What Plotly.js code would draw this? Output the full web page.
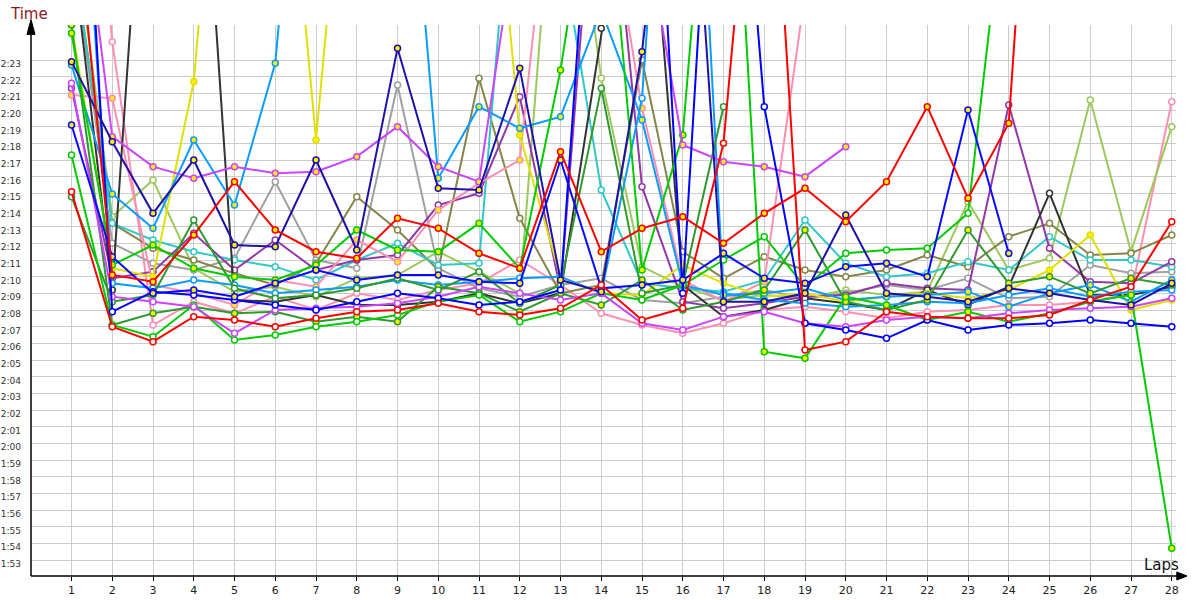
<!DOCTYPE html>
<html><head><meta charset="utf-8">
<script src="https://cdn.plot.ly/plotly-3.0.1.min.js"></script>
<style>html,body{margin:0;padding:0;background:#fff}#chart{width:1200px;height:600px}</style>
</head><body><div id="chart"></div>
<script>
// ---- data ----
const laps = [1,2,3,4,5,6,7,8,9,10,11,12,13,14,15,16,17,18,19,20,21,22,23,24,25,26,27,28];
const lapLabels = ["1","2","3","4","5","6","7","8","9","10","11","12","13","14","15","16","17","18","19","20","21","22","23","24","25","26","27","28"];
const timeTicks = [113,114,115,116,117,118,119,120,121,122,123,124,125,126,127,128,129,130,131,132,133,134,135,136,137,138,139,140,141,142,143];
const timeLabels = ["1:53","1:54","1:55","1:56","1:57","1:58","1:59","2:00","2:01","2:02","2:03","2:04","2:05","2:06","2:07","2:08","2:09","2:10","2:11","2:12","2:13","2:14","2:15","2:16","2:17","2:18","2:19","2:20","2:21","2:22","2:23"];

// lap times in seconds (null = no lap)
const redA    = [155,130.1,129.7,132.5,135.7,132.8,131.5,131.1,133.5,132.9,131.4,130.5,137.5,131.5,132.9,133.6,132.0,133.8,135.3,133.3,135.7,140.2,134.7,139.2,175,null,null,null];
const redB    = [135.1,127.0,126.1,127.6,127.4,127.0,127.5,127.9,128.0,128.4,127.9,127.7,128.1,129.5,127.4,128.1,138.0,165,125.6,126.1,127.9,127.6,127.5,127.5,127.7,128.6,129.4,133.3];
const violetA = [158,138.4,136.6,135.9,136.6,136.2,136.3,137.2,139.0,136.6,135.7,152,153,150,152,137.9,136.9,136.6,136.0,137.8,null,null,null,null,null,null,null,null];
const violetB = [141.6,128.8,128.5,128.2,126.6,128.0,128.1,128.2,128.4,128.8,129.4,129.0,128.6,129.0,127.2,126.8,127.6,127.9,127.2,127.0,127.4,127.6,127.5,127.8,128.0,128.1,128.2,128.7];
const navy    = [142.9,138.1,133.8,137.0,131.9,131.8,137.0,131.6,143.7,135.3,135.2,142.5,129.8,129.1,143.5,165,128.5,128.5,129.0,133.7,129.0,128.8,128.5,129.3,129.0,128.6,128.3,129.6];
const blueA   = [139.1,131.2,129.0,129.2,128.8,129.6,130.4,129.8,130.1,130.1,129.7,129.6,137.0,129.3,129.5,129.8,131.4,129.9,129.6,130.6,130.8,130.0,140.0,131.4,null,null,null,null];
const blueB   = [170,127.9,129.1,128.9,128.6,128.3,128.0,128.5,129.0,128.7,128.3,128.5,129.2,164,172,129.0,170,140.2,127.2,126.8,126.3,127.4,126.8,127.1,127.2,127.4,127.2,127.0];
const greenA  = [144.6,130.7,131.9,130.5,130.0,129.8,130.7,132.8,131.6,131.5,133.2,130.5,142.4,158,130.4,138.5,168,125.5,125.1,128.8,128.3,127.4,127.9,127.3,127.8,128.5,128.9,113.7];
const greenB  = [137.3,127.1,126.4,128.3,126.2,126.5,127.0,127.3,127.7,128.5,128.9,127.3,127.9,129.0,128.6,129.5,131.0,132.4,129.4,131.4,131.6,131.7,133.8,155,null,null,null,null];
const dkGreenA= [145.1,127.1,127.8,128.2,127.8,127.9,127.3,127.6,127.3,129.4,129.0,127.9,129.0,128.3,129.8,128.0,128.5,129.2,132.8,128.5,128.0,128.6,132.8,129.6,130.0,129.0,129.9,129.5];
const dkGreenB= [134.8,128.5,128.9,133.4,129.3,128.7,128.9,129.3,129.9,129.2,130.3,128.4,129.5,141.3,129.0,129.5,140.2,null,null,null,null,null,null,null,null,null,null,null];
const khaki   = [150,133.2,131.7,131.0,130.2,129.5,130.8,134.8,132.8,130.4,141.9,133.5,129.0,129.5,143.0,131.5,129.9,131.2,130.4,130.0,130.4,131.3,130.6,132.4,133.2,131.3,131.4,132.5];
const gray    = [150,132.0,130.8,130.4,131.1,135.7,131.0,130.5,141.5,130.5,129.3,128.8,129.5,129.9,128.6,128.4,128.8,129.2,128.7,129.0,129.5,129.2,129.9,128.7,128.8,130.7,130.2,130.3];
const black   = [150,129.2,165,165,128.6,128.5,128.9,128.3,128.3,128.5,129.0,128.4,129.0,144.9,160,129.5,127.6,128.0,128.7,128.4,128.0,129.2,128.3,129.4,135.0,128.9,128.9,129.4];
const yellow  = [145.1,130.5,130.0,141.7,170,165,138.2,165,165,165,165,138.5,130.0,129.0,128.9,130.7,129.6,128.8,129.0,128.5,128.8,129.0,128.7,129.2,130.4,132.5,128.0,128.6];
const skyBlueA= [142.7,134.96,132.9,138.2,134.3,142.8,170,170,165,135.9,140.2,138.9,139.6,146,139.4,129.5,128.9,129.0,129.3,128.6,128.8,128.9,129.1,128.2,129.0,129.5,128.5,129.8];
const skyBlueB= [165,129.6,129.3,129.8,129.5,129.0,129.2,129.4,129.8,129.5,129.7,129.9,130.0,129.0,140.7,175,129.0,128.6,128.4,128.2,128.3,128.5,128.4,128.9,129.3,128.8,129.1,129.2];
const cyan    = [150,133.2,132.2,131.5,131.0,130.6,129.8,131.0,132.0,130.7,130.8,160,150,135.2,129.6,129.3,129.1,129.8,133.4,130.8,130.0,130.2,130.9,130.4,132.4,131.0,131.0,130.6];
const pinkA   = [140.9,140.7,129.5,129.0,128.3,129.8,129.4,132.2,130.9,134.0,135.6,137.0,160,155,140.1,129.8,128.5,129.7,147,null,null,null,null,null,null,null,null,null];
const pinkB   = [170,144.1,127.1,128.5,127.8,128.8,128.0,129.0,128.6,129.2,129.6,131.0,129.5,127.8,127.1,126.6,127.2,128.0,128.2,127.9,127.5,127.9,128.0,128.3,128.3,128.5,129.0,140.5];
const purple  = [141.3,129.9,130.3,132.6,130.4,132.2,130.4,131.0,131.3,134.3,135.0,140.8,129.2,160,135.4,128.5,128.1,128.4,128.8,128.9,129.6,129.3,129.2,140.3,131.7,129.7,129.6,130.9];
const ltOlive = [152,133.6,135.8,130.5,129.1,129.4,128.8,129.9,130.1,131.5,130.3,129.0,160,141.9,130.6,129.4,128.6,128.9,128.7,129.2,128.9,129.1,134.5,130.4,131.1,140.6,131.5,139.0];

// ---- styling ----
const seriesList = [
  {y: pinkB,    c:'#ff8fb0', f:'#ffffff'},
  {y: ltOlive,  c:'#9cc85c', f:'#ffffff'},
  {y: gray,     c:'#a0a0a0', f:'#ffffff'},
  {y: khaki,    c:'#85854a', f:'#ffffff'},
  {y: cyan,     c:'#30c8c8', f:'#ffffff'},
  {y: purple,   c:'#9238a8', f:'#ffffff'},
  {y: pinkA,    c:'#ff8fb0', f:'#ffee00'},
  {y: black,    c:'#333333', f:'#ffffff'},
  {y: yellow,   c:'#e0e000', f:'#ffee00'},
  {y: skyBlueB, c:'#0a9cff', f:'#ffffff'},
  {y: skyBlueA, c:'#0a9cff', f:'#ffee00'},
  {y: dkGreenA, c:'#2e9a2e', f:'#ffee00'},
  {y: dkGreenB, c:'#2e9a2e', f:'#ffffff'},
  {y: greenB,   c:'#00cc00', f:'#ffffff'},
  {y: greenA,   c:'#00cc00', f:'#ffee00'},
  {y: violetB,  c:'#cc44ff', f:'#ffffff'},
  {y: violetA,  c:'#cc44ff', f:'#ffee00'},
  {y: blueB,    c:'#0000ff', f:'#ffffff'},
  {y: blueA,    c:'#0a0aff', f:'#ffee00'},
  {y: navy,     c:'#2010aa', f:'#ffee00'},
  {y: redB,     c:'#ff0000', f:'#ffffff'},
  {y: redA,     c:'#ff0000', f:'#ffee00'}
];

const traces = seriesList.map(s => ({
  type:'scatter', mode:'lines+markers', x: laps, y: s.y,
  line:{color:s.c, width:2}, connectgaps:false,
  marker:{symbol:'circle', size:6, color:s.f, line:{color:s.c, width:1.5}},
  hoverinfo:'skip', showlegend:false
}));

const L = 31, R = 1176, T = 25, B = 576;
const layout = {
  width:1200, height:600,
  margin:{l:L, r:1200-R, t:T, b:600-B, pad:0},
  paper_bgcolor:'#ffffff', plot_bgcolor:'#ffffff',
  font:{family:'DejaVu Sans, Verdana, sans-serif', color:'#222'},
  xaxis:{range:[0.006, 28.104], tickvals:laps, ticktext:lapLabels, tickmode:'array',
         showgrid:true, gridcolor:'#cccccc', gridwidth:1, zeroline:false,
         showline:false, ticks:'outside', ticklen:4, tickcolor:'#000',
         tickfont:{size:11, color:'#222'}, fixedrange:true},
  yaxis:{range:[112.04, 145.1], tickvals:timeTicks, ticktext:timeLabels, tickmode:'array',
         showgrid:true, gridcolor:'#cccccc', gridwidth:1, zeroline:false,
         showline:false, ticks:'', ticklabelstandoff:9, ticklabelshift:4,
         tickfont:{size:9, color:'#333'}, fixedrange:true},
  shapes:[
    {type:'line', xref:'paper', yref:'paper', x0:0, x1:1.0087, y0:0, y1:0, line:{color:'#000', width:1.5}},
    {type:'line', xref:'paper', yref:'paper', x0:0, x1:0, y0:0, y1:1.005, line:{color:'#000', width:1.5}},
    {type:'path', xref:'paper', yref:'paper', path:'M -0.0035 0.983 L 0 1.01 L 0.0035 0.983 Z', fillcolor:'#000', line:{color:'#000', width:1}},
    {type:'path', xref:'paper', yref:'paper', path:'M 1.0007 0.0073 L 1.0096 0 L 1.0007 -0.0073 Z', fillcolor:'#000', line:{color:'#000', width:1}}
  ],
  annotations:[
    {text:'Time', xref:'paper', yref:'paper', x:-0.0201, y:1.0, xanchor:'left', yanchor:'bottom', showarrow:false,
     font:{size:15, color:'#8b1c1c', family:'DejaVu Sans, sans-serif'}},
    {text:'Laps', xref:'paper', yref:'paper', x:0.970, y:0.0, xanchor:'left', yanchor:'bottom', showarrow:false,
     font:{size:15, color:'#111', family:'DejaVu Sans, sans-serif'}}
  ]
};

Plotly.newPlot('chart', traces, layout, {displayModeBar:false, staticPlot:true});
</script>
</body></html>
